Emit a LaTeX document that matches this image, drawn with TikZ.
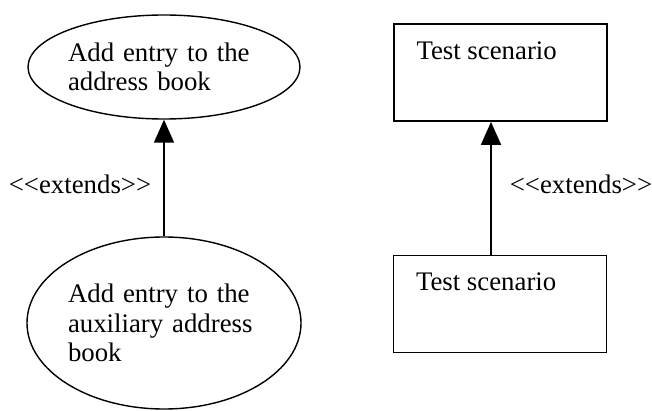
\documentclass[tikz,border=0pt]{standalone}
\usepackage{fontspec}
\setmainfont{Liberation Serif}
\usetikzlibrary{shapes.geometric, arrows.meta, positioning, calc}
\tikzstyle{usecase} = [draw, ellipse, line width=0.7pt, inner sep=0, text width=96pt, align=left, font=\fontsize{13.4}{14.6}\selectfont]
\tikzstyle{scenario} = [draw, line width=0.9pt, minimum width=106.5pt, minimum height=48.5pt]
\tikzstyle{caption} = [inner sep=0, font=\fontsize{13.4}{15}\selectfont]
\tikzstyle{arrow} = [line width=0.9pt, -{Triangle[width=10pt, length=11.5pt]}]
\newcommand{\extendstag}{<{}<extends>{}>}

\begin{document}
\begin{tikzpicture}[x=0.5pt, y=-0.5pt]
        \useasboundingbox (0,0) rectangle (652,411);
        % use cases
        \node[usecase, minimum width=136pt, minimum height=52pt] (addentry) at (164,67) {Add entry to the\\address book};
        \node[usecase, minimum width=137pt, minimum height=86pt] (addaux) at (164,323) {Add entry to the\\auxiliary address\\book};
        \node[caption, anchor=base] (extleft) at (80,193) {\extendstag};

        % scenarios
        \node[scenario] (basescen) at (500.5,72.5) {};
        \node[caption, anchor=base west] (basetext) at ($(basescen.north west)+(23,36)$) {Test scenario};
        \node[scenario] (extscen) at (500,304) {};
        \node[caption, anchor=base west] (exttext) at ($(extscen.north west)+(23,36)$) {Test scenario};
        \node[caption, anchor=base] (extright) at (581,193) {\extendstag};

        \draw[arrow] (addaux) -- (addentry);
        \draw[arrow] (extscen.north -| 491,0) -- (basescen.south -| 491,0);
    \end{tikzpicture}
\end{document}
